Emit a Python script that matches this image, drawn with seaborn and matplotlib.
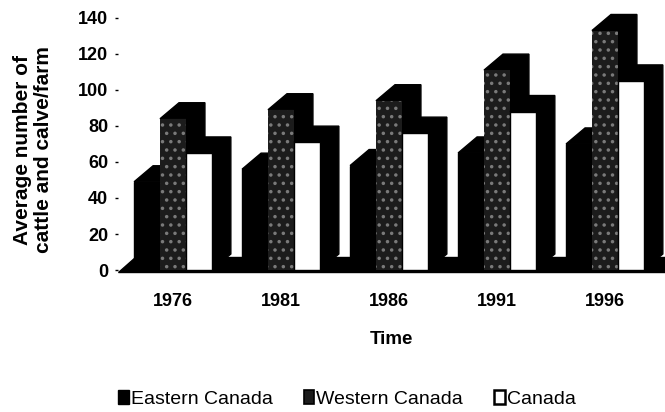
import matplotlib
matplotlib.use("Agg")
import matplotlib.pyplot as plt
from matplotlib.patches import Polygon, Patch
import seaborn as sns
import pandas as pd

# data
years = ["1976", "1981", "1986", "1991", "1996"]
regions = ["Eastern Canada", "Western Canada", "Canada"]
eastern = [49, 56, 58, 65, 70]
western = [84, 89, 94, 111, 133]
canada = [65, 71, 76, 88, 105]

df = pd.DataFrame({
    "Time": years * 3,
    "Region": [regions[0]] * 5 + [regions[1]] * 5 + [regions[2]] * 5,
    "Value": eastern + western + canada,
})

sns.set_style("white")
plt.rcParams["font.family"] = ["Liberation Sans", "DejaVu Sans"]
plt.rcParams["text.color"] = "black"
plt.rcParams["axes.labelcolor"] = "black"
plt.rcParams["xtick.color"] = "black"
plt.rcParams["ytick.color"] = "black"
plt.rcParams["hatch.linewidth"] = 1.3

fig = plt.figure(figsize=(6.65, 4.12), dpi=100)
ax = fig.add_axes([118 / 665, 0.335, 547 / 665, 264 / 412])

pal = {"Eastern Canada": "black", "Western Canada": "#1c1c1c", "Canada": "white"}
sns.barplot(data=df, x="Time", y="Value", hue="Region", hue_order=regions,
            palette=pal, width=0.72, edgecolor="black", linewidth=1.0,
            saturation=1, legend=False, ax=ax)

ax.set_xlim(-0.509, 4.556)
ax.set_ylim(-2.2, 144.4)

# fake 3D depth
dx, dy = 0.176, 8.9
x0, x1 = ax.get_xlim()
ax.add_patch(Polygon([(x0, -1), (x1, -1), (x1, 7), (x0 + 0.16, 7)],
                     closed=True, facecolor="black", edgecolor="black", zorder=0.5))

bars = []
for j, cont in enumerate(ax.containers):
    for i, p in enumerate(cont.patches):
        bars.append((i, j, p))
bars.sort(key=lambda t: (t[0], t[1]))

z = 2
for i, j, p in bars:
    x, w, h = p.get_x(), p.get_width(), p.get_height()
    ax.add_patch(Polygon([(x, h), (x + dx, h + dy), (x + w + dx, h + dy),
                          (x + w + dx, dy), (x + w, 0), (x + w, h)],
                         closed=True, facecolor="black", edgecolor="black",
                         linewidth=1, zorder=z))
    p.set_zorder(z + 1)
    if j == 1:
        p.set_hatch("..")
        p.set_edgecolor("#7a7a7a")
        p.set_linewidth(0)
    z += 2

for s in ax.spines.values():
    s.set_visible(False)

ax.set_yticks(range(0, 141, 20))
ax.tick_params(axis="y", length=2, width=1, pad=5, labelsize=13, left=True)
ax.tick_params(axis="x", length=0, pad=14, labelsize=13)
for lab in ax.get_xticklabels() + ax.get_yticklabels():
    lab.set_fontweight("bold")

ax.set_xlabel("Time", fontsize=13.5, fontweight="bold")
ax.xaxis.set_label_coords(0.5, -0.216)
ax.set_ylabel("Average number of\ncattle and calve/farm", fontsize=15,
              fontweight="bold", linespacing=1.15)
ax.yaxis.set_label_coords(-0.119, 0.47)

handles = [Patch(facecolor="black", edgecolor="black"),
           Patch(facecolor="#1c1c1c", edgecolor="black", linewidth=1.2),
           Patch(facecolor="white", edgecolor="black", linewidth=1.8)]
fig.legend(handles, regions, loc="center left", bbox_to_anchor=(118 / 665, 1 - 399 / 412),
           ncol=3, frameon=False, fontsize=14, handlelength=0.55, handleheight=0.7,
           handletextpad=0.1, columnspacing=1.6, borderpad=0, borderaxespad=0)

fig.savefig("out.png", dpi=100)
